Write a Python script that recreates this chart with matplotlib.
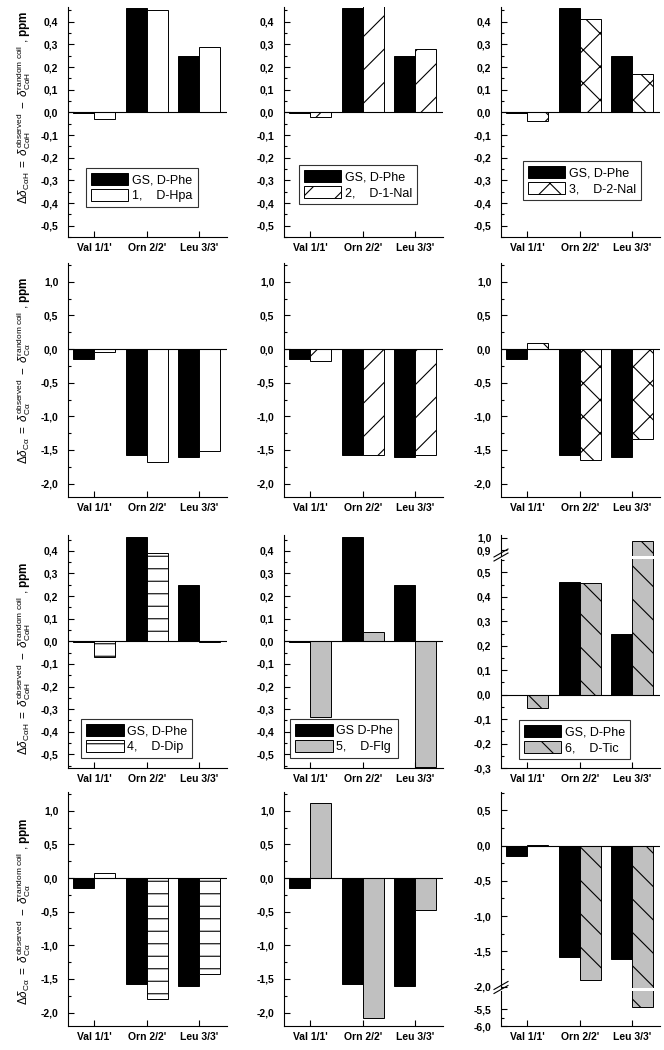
import numpy as np
import matplotlib.pyplot as plt
from matplotlib.ticker import MultipleLocator, FixedLocator, FuncFormatter
from matplotlib.lines import Line2D
from matplotlib.backend_bases import GraphicsContextBase

plt.rcParams['font.family'] = ['Liberation Sans Narrow', 'Liberation Sans', 'DejaVu Sans']
plt.rcParams['mathtext.fontset'] = 'custom'
plt.rcParams['mathtext.rm'] = 'Liberation Sans'
plt.rcParams['mathtext.it'] = 'Liberation Sans:italic'
plt.rcParams['mathtext.bf'] = 'Liberation Sans:bold'
plt.rcParams['hatch.linewidth'] = 0.8

# горизонтальная штриховка в оригинале гуще, чем '-' по умолчанию
_orig_hatch_path = GraphicsContextBase.get_hatch_path


def _hatch_path(self, density=6.0):
    if self.get_hatch() == "-":
        density = 8.6
    return _orig_hatch_path(self, density)


GraphicsContextBase.get_hatch_path = _hatch_path

# данные
residues = ["Val 1/1'", "Orn 2/2'", "Leu 3/3'"]
gs_cah = [-0.003, 0.46, 0.25]
gs_ca = [-0.15, -1.58, -1.61]

cah_1 = [-0.03, 0.45, 0.29]
cah_2 = [-0.02, 0.47, 0.28]
cah_3 = [-0.04, 0.41, 0.17]
cah_4 = [-0.07, 0.39, -0.003]
cah_5 = [-0.335, 0.04, -0.555]
cah_6 = [-0.055, 0.455, 0.97]

ca_1 = [-0.05, -1.68, -1.52]
ca_2 = [-0.18, -1.58, -1.58]
ca_3 = [0.09, -1.65, -1.34]
ca_4 = [0.08, -1.80, -1.42]
ca_5 = [1.12, -2.08, -0.47]
ca_6 = [0.01, -1.90, -5.45]

gs_labels = ["GS, D-Phe", "GS, D-Phe", "GS, D-Phe", "GS, D-Phe", "GS D-Phe", "GS, D-Phe"]
cmp_labels = ["1,    D-Hpa", "2,    D-1-Nal", "3,    D-2-Nal",
              "4,    D-Dip", "5,    D-Flg", "6,    D-Tic"]

styles = [
    dict(color="white", hatch=None),
    dict(color="white", hatch="/"),
    dict(color="white", hatch="x"),
    dict(color="white", hatch="-"),
    dict(color="#c0c0c0", hatch=None),
    dict(color="#c0c0c0", hatch="\\"),
]

W, H = 664, 1050
fig = plt.figure(figsize=(W / 100, H / 100), dpi=100)

col_left = [68, 284, 501]
ax_w = 159
rows_px = [(7, 237), (263, 497), (535, 768), (792, 1026)]
ylab_y = [0.565, 0.54, 0.47, 0.49]

x = np.arange(3)
bw = 0.4


def fmt(v, pos):
    if abs(v) < 1e-9:
        v = 0.0
    return f"{v:.1f}".replace(".", ",")


def make_ax(left, top, bottom):
    ax = fig.add_axes([left / W, 1 - bottom / H, ax_w / W, (bottom - top) / H])
    ax.spines["top"].set_visible(False)
    ax.spines["right"].set_visible(False)
    ax.set_xlim(-0.5, 2.53)
    ax.tick_params(direction="in", length=4, width=0.8, labelsize=7.5)
    ax.tick_params(which="minor", direction="in", length=2.5, width=0.8)
    ax.tick_params(axis="y", pad=7)
    ax.tick_params(axis="x", pad=4)
    ax.yaxis.set_major_formatter(FuncFormatter(fmt))
    return ax


def draw_bars(ax, gs, vals, i, with_label=True):
    b1 = ax.bar(x - bw / 2, gs, bw, color="black", edgecolor="black", lw=0.7,
                label=gs_labels[i] if with_label else None)
    b2 = ax.bar(x + bw / 2, vals, bw, color=styles[i]["color"], edgecolor="black",
                hatch=styles[i]["hatch"], lw=0.7,
                label=cmp_labels[i] if with_label else None)
    ax.axhline(0, color="black", lw=0.8)
    return b1, b2


def set_xlabels(ax):
    ax.set_xticks(x)
    ax.set_xticklabels(residues, fontsize=7.5, fontweight="bold")


def yticks_bold(ax):
    for lab in ax.get_yticklabels():
        lab.set_fontweight("bold")


def add_legend(ax, bx, by):
    leg = ax.legend(loc="lower left", bbox_to_anchor=(bx, by),
                    prop={"family": ["Liberation Sans", "DejaVu Sans"], "size": 9},
                    frameon=True, fancybox=False, edgecolor="black",
                    handlelength=3.0, handleheight=1.15, labelspacing=0.2,
                    borderpad=0.4, handletextpad=0.3, borderaxespad=0)
    leg.get_frame().set_linewidth(0.8)


def break_marks(ax_lo, y_px):
    # метки разрыва оси
    xl = ax_lo.get_position().x0 * W
    for dy in (0, 4):
        fig.add_artist(Line2D([(xl - 7) / W, (xl + 7) / W],
                              [1 - (y_px + 4 - dy) / H, 1 - (y_px - 4 - dy) / H],
                              color="black", lw=0.8))


label_cah = (r"$\Delta\delta_{\mathrm{C\alpha H}}\ =\ \delta_{\mathrm{C\alpha H}}^{\mathrm{observed}}"
             r"\ -\ \delta_{\mathrm{C\alpha H}}^{\mathrm{random\ coil}}$ , $\mathbf{ppm}$")
label_ca = (r"$\Delta\delta_{\mathrm{C\alpha}}\ =\ \delta_{\mathrm{C\alpha}}^{\mathrm{observed}}"
            r"\ -\ \delta_{\mathrm{C\alpha}}^{\mathrm{random\ coil}}$ , $\mathbf{ppm}$")

cah_all = [cah_1, cah_2, cah_3, cah_4, cah_5, cah_6]
ca_all = [ca_1, ca_2, ca_3, ca_4, ca_5, ca_6]
leg_pos = [(0.113, 0.13), (0.094, 0.143), (0.138, 0.16),
           (0.082, 0.043), (0.038, 0.043), (0.113, 0.042)]

for block in range(2):
    r_cah = rows_px[block * 2]
    r_ca = rows_px[block * 2 + 1]
    for c in range(3):
        i = block * 3 + c
        left = col_left[c]
        # --- CaH panels ---
        if i == 5:
            top, bottom = r_cah
            brk = 557
            ax_up = make_ax(left, top, brk - 1.5)
            ax = make_ax(left, brk + 1.5, bottom)
            draw_bars(ax_up, gs_cah, cah_all[i], i, with_label=False)
            draw_bars(ax, gs_cah, cah_all[i], i)
            ax_up.set_ylim(0.856, 1.022)
            ax_up.yaxis.set_major_locator(FixedLocator([0.9, 1.0]))
            ax_up.spines["bottom"].set_visible(False)
            ax_up.set_xticks([])
            yticks_bold(ax_up)
            ax.set_ylim(-0.3, 0.557)
            ax.yaxis.set_major_locator(MultipleLocator(0.1))
            ax.yaxis.set_minor_locator(MultipleLocator(0.05))
            break_marks(ax, brk)
        else:
            ax = make_ax(left, *r_cah)
            draw_bars(ax, gs_cah, cah_all[i], i)
            if block == 0:
                ax.set_ylim(-0.55, 0.465)
            else:
                ax.set_ylim(-0.56, 0.47)
            ax.yaxis.set_major_locator(MultipleLocator(0.1))
            ax.yaxis.set_minor_locator(MultipleLocator(0.05))
        set_xlabels(ax)
        yticks_bold(ax)
        add_legend(ax, *leg_pos[i])
        if c == 0:
            ax.set_ylabel(label_cah, fontsize=8.5)
            ax.yaxis.set_label_coords(-0.22, ylab_y[block * 2])

        # --- Ca panels ---
        if i == 5:
            top, bottom = r_ca
            brk = 989.5
            ax = make_ax(left, top, brk - 1.5)
            ax_lo = make_ax(left, brk + 1.5, bottom)
            draw_bars(ax, gs_ca, ca_all[i], i, with_label=False)
            draw_bars(ax_lo, gs_ca, ca_all[i], i, with_label=False)
            ax.set_ylim(-2.02, 0.76)
            ax.yaxis.set_major_locator(MultipleLocator(0.5))
            ax.yaxis.set_minor_locator(MultipleLocator(0.25))
            ax.spines["bottom"].set_visible(False)
            ax.set_xticks([])
            yticks_bold(ax)
            ax_lo.set_ylim(-6.0, -4.97)
            ax_lo.yaxis.set_major_locator(FixedLocator([-6.0, -5.5]))
            ax_lo.yaxis.set_minor_locator(FixedLocator([-5.75]))
            set_xlabels(ax_lo)
            yticks_bold(ax_lo)
            break_marks(ax_lo, brk)
        else:
            ax = make_ax(left, *r_ca)
            draw_bars(ax, gs_ca, ca_all[i], i, with_label=False)
            ax.set_ylim(-2.2, 1.28)
            ax.yaxis.set_major_locator(MultipleLocator(0.5))
            ax.yaxis.set_minor_locator(MultipleLocator(0.25))
            set_xlabels(ax)
            yticks_bold(ax)
            if c == 0:
                ax.set_ylabel(label_ca, fontsize=8.5)
                ax.yaxis.set_label_coords(-0.22, ylab_y[block * 2 + 1])

fig.savefig("out.png", dpi=100)
